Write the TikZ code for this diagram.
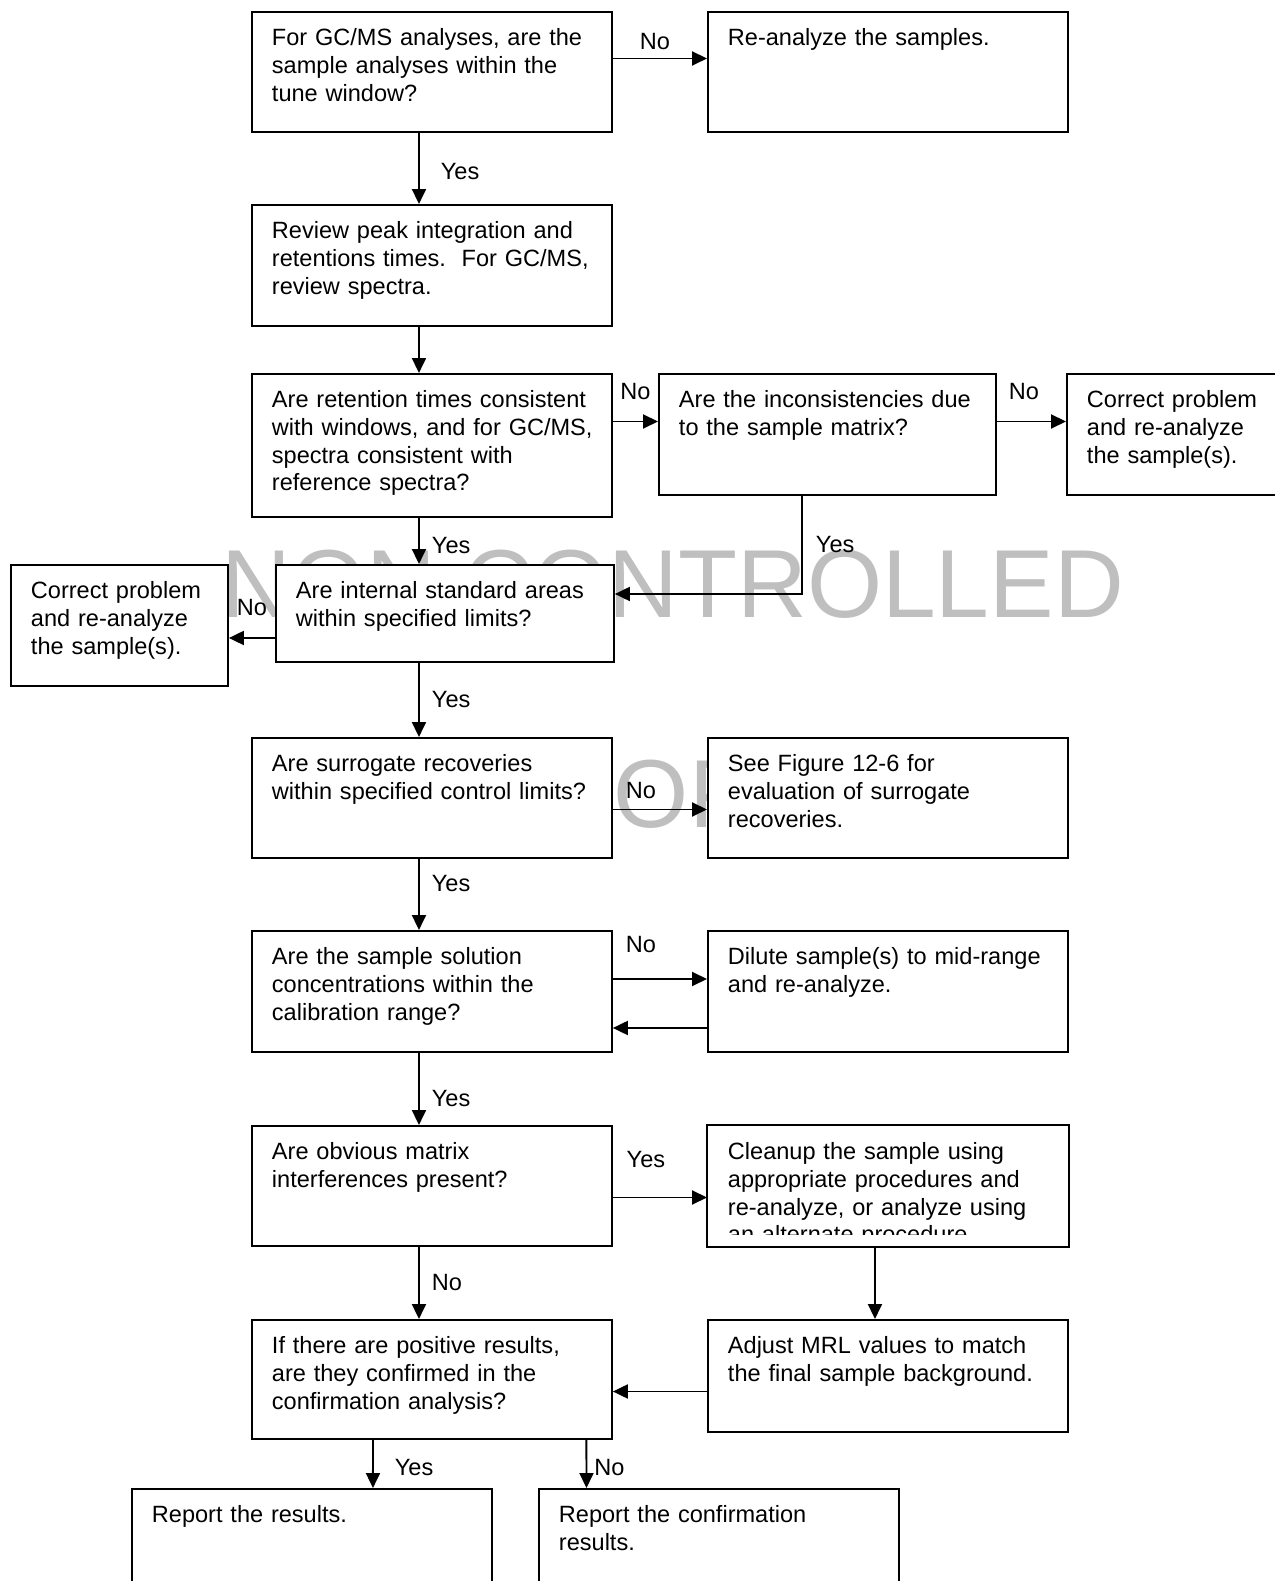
\documentclass[tikz,border=0pt]{standalone}
\usepackage{fontspec}
\setmainfont{Liberation Sans}
\usetikzlibrary{arrows.meta,positioning}

\begin{document}
\begin{tikzpicture}[
    x=0.02cm, y=-0.02cm,
    line width=1.1pt,
    box/.style={draw, fill=white, anchor=north west, align=left, text width=6.4cm,
        inner xsep=0.4cm, inner ysep=0pt, text height=0.68cm, text depth=1.72cm,
        font=\fontsize{13.4}{15.7}\selectfont},
    arr/.style={-{Triangle[length=0.3cm, width=0.28cm]}},
    lab/.style={inner sep=0pt, font=\fontsize{13.4}{15.7}\selectfont},
    wmark/.style={text=black!25, inner sep=0pt, font=\fontsize{55}{60}\selectfont}
]
\useasboundingbox (0,0) rectangle (1274,1581);
% watermark, behind the boxes
\node[wmark, anchor=base] (wm1) at (673,617) {NON CONTROLLED};
\node[wmark, anchor=base] (wm2) at (681,827) {COPY};

% boxes
\node[box] (tune) at (251,11) {For GC/MS analyses, are the\\sample analyses within the\\tune window?};
\node[box] (reanalyze) at (707,11) {Re-analyze the samples.};
\node[box, text depth=1.74cm] (review) at (251,204) {Review peak integration and\\\mbox{retentions times.\ \ For GC/MS,}\\review spectra.};
\node[box, text depth=2.18cm] (retention) at (251,373) {Are retention times consistent\\\mbox{with windows, and for GC/MS,}\\spectra consistent with\\reference spectra?};
\node[box, text width=5.94cm, text depth=1.74cm] (inconsist) at (658,373) {Are the inconsistencies due\\to the sample matrix?};
\node[box, text width=3.58cm, text depth=1.74cm] (correctR) at (1066,373) {Correct problem\\and re-analyze\\the sample(s).};
\node[box, text width=5.96cm, text depth=1.26cm] (internal) at (275,564) {Are internal standard areas\\within specified limits?};
\node[box, text width=3.54cm, text depth=1.74cm] (correctL) at (10,564) {Correct problem\\and re-analyze\\the sample(s).};
\node[box] (surrogate) at (251,737) {Are surrogate recoveries\\\mbox{within specified control limits?}};
\node[box] (figure) at (707,737) {See Figure 12-6 for\\evaluation of surrogate\\recoveries.};
\node[box, text depth=1.74cm] (range) at (251,930) {Are the sample solution\\concentrations within the\\calibration range?};
\node[box, text depth=1.74cm] (dilute) at (707,930) {\mbox{Dilute sample(s) to mid-range}\\and re-analyze.};
\node[box] (matrix) at (251,1125) {Are obvious matrix\\interferences present?};
\begin{scope}
  \clip (707,1125) rectangle (1070,1234);
  \node[box, draw=none] (cleanup) at (707,1125) {Cleanup the sample using\\appropriate procedures and\\re-analyze, or analyze using\\an alternate procedure.};
\end{scope}
\draw (cleanup.north west) rectangle (cleanup.south east);
\node[box, text depth=1.70cm] (positive) at (251,1319) {If there are positive results,\\are they confirmed in the\\confirmation analysis?};
\node[box, text depth=1.56cm] (adjust) at (707,1319) {Adjust MRL values to match\\the final sample background.};
\node[box, text depth=1.52cm] (report) at (131,1488) {Report the results.};
\node[box, text depth=1.52cm] (confirm) at (538,1488) {Report the confirmation\\results.};

% connectors
\draw[arr] ([yshift=-0.95cm]tune.north east) -- ([yshift=-0.95cm]reanalyze.north west)
    node[lab, midway, above=0.15cm, xshift=-0.1cm] (noTune) {No};
\draw[arr] ([xshift=3.36cm]tune.south west) -- ([xshift=3.36cm]review.north west)
    node[lab, midway, right=0.42cm, yshift=-0.07cm] (yesTune) {Yes};
\draw[arr] ([xshift=3.36cm]review.south west) -- ([xshift=3.36cm]retention.north west);
\draw[arr] ([yshift=-0.97cm]retention.north east) -- ([yshift=-0.97cm]inconsist.north west)
    node[lab, midway, above=0.42cm] (noRet) {No};
\draw[arr] ([yshift=-0.97cm]inconsist.north east) -- ([yshift=-0.97cm]correctR.north west)
    node[lab, midway, above=0.42cm, xshift=-0.15cm] (noInc) {No};
\draw[arr] ([xshift=3.36cm]retention.south west) -- ([xshift=2.88cm]internal.north west)
    node[lab, midway, right=0.24cm, yshift=-0.1cm] (yesRet) {Yes};
\draw[arr] ([xshift=2.88cm]inconsist.south west) |- ([yshift=-0.6cm]internal.north east)
    node[lab, pos=0.25, right=0.26cm] (yesInc) {Yes};
\draw[arr] ([yshift=-1.48cm]internal.north west) -- ([yshift=-1.48cm]correctL.north east)
    node[lab, midway, above=0.43cm] (noInt) {No};
\draw[arr] ([xshift=2.88cm]internal.south west) -- ([xshift=3.36cm]surrogate.north west)
    node[lab, midway, right=0.24cm] (yesInt) {Yes};
\draw[arr] ([yshift=-1.45cm]surrogate.north east) -- ([yshift=-1.45cm]figure.north west)
    node[lab, midway, above=0.2cm, xshift=-0.38cm] (noSur) {No};
\draw[arr] ([xshift=3.36cm]surrogate.south west) -- ([xshift=3.36cm]range.north west)
    node[lab, midway, right=0.24cm, yshift=0.21cm] (yesSur) {Yes};
\draw[arr] ([yshift=-0.98cm]range.north east) -- ([yshift=-0.98cm]dilute.north west)
    node[lab, midway, above=0.5cm, xshift=-0.38cm] (noRange) {No};
\draw[arr] ([yshift=-1.96cm]dilute.north west) -- ([yshift=-1.96cm]range.north east);
\draw[arr] ([xshift=3.36cm]range.south west) -- ([xshift=3.36cm]matrix.north west)
    node[lab, midway, right=0.24cm, yshift=-0.2cm] (yesRange) {Yes};
\draw[arr] ([yshift=-1.45cm]matrix.north east) -- ([yshift=-1.45cm]cleanup.north west)
    node[lab, midway, above=0.58cm, xshift=-0.28cm] (yesMat) {Yes};
\draw[arr] ([xshift=3.36cm]matrix.south west) -- ([xshift=3.36cm]positive.north west)
    node[lab, midway, right=0.24cm] (noMat) {No};
\draw[arr] ([xshift=3.36cm]cleanup.south west) -- ([xshift=3.36cm]adjust.north west);
\draw[arr] ([yshift=-1.45cm]adjust.north west) -- ([yshift=-1.45cm]positive.north east);
\draw[arr] ([xshift=2.44cm]positive.south west) -- ([xshift=4.84cm]report.north west)
    node[lab, midway, right=0.42cm, yshift=-0.08cm] (yesPos) {Yes};
\draw[arr] ([xshift=6.71cm]positive.south west) -- ([xshift=0.97cm]confirm.north west)
    node[lab, midway, right=0.14cm, yshift=-0.08cm] (noPos) {No};
\end{tikzpicture}
\end{document}
